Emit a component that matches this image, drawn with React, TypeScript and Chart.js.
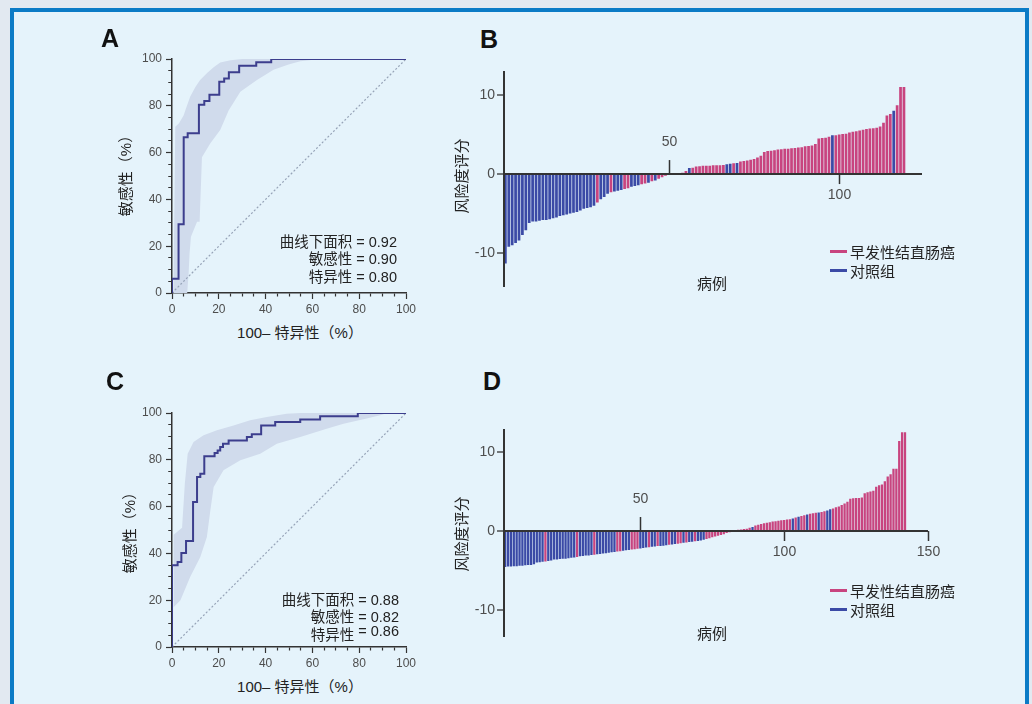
import React, { useEffect, useRef } from 'react';
import { Chart, registerables } from 'chart.js';

Chart.register(...registerables);

// ---------- colours & fonts ----------
const CASE_COLOR = '#c8447f';
const CONTROL_COLOR = '#3b4aa6';
const ROC_LINE = '#3c3e8d';
const ROC_BAND = '#d0dbec';
const DIAG = '#97a4b8';
const AXIS = '#333333';
const TICK_TEXT = '#4d4d4d';
const LATIN = '"Liberation Sans", Arial, sans-serif';
const MIXED = '"Liberation Sans", "Noto Sans CJK SC", sans-serif';
const CJK = '"Noto Sans CJK SC", "Liberation Sans", sans-serif';

// ---------- Panel A : ROC ----------
const rocAStepFpr = [0, 2.8, 5, 6.7, 11.5, 13.8, 16, 20.2, 22.3, 24.3, 28.7, 36, 42.4];
const rocAStepTpr = [6.1, 29.4, 66.6, 68.3, 80.4, 82.1, 84.7, 90.3, 91.7, 94.3, 97.1, 98.6, 100];
const rocABandUpperX = [0.6, 1.4, 3, 5, 6, 7.8, 10, 12, 15, 17.8, 20.6, 25, 30, 100];
const rocABandUpperY = [0, 71, 72.5, 76, 79, 84, 88, 91, 94, 96.5, 98.5, 99.5, 100, 100];
const rocABandLowerX = [100, 80, 60.5, 54.8, 49.8, 43.4, 36.3, 29.2, 24.2, 20.6, 16.4, 12.8, 11.8, 10.7, 8.1, 7.5, 7.1, 6.5];
const rocABandLowerY = [100, 100, 99.7, 99, 97.6, 95.4, 91, 86, 78, 69.7, 64, 58, 30.4, 30.4, 24, 16.9, 8.3, 0];
const rocAStatValues = ['0.92', '0.90', '0.80'];

// ---------- Panel C : ROC ----------
const rocCStepFpr = [0, 2.4, 4, 6, 9, 10.7, 12.1, 13.8, 18.2, 19.5, 20.6, 21.8, 24.2, 32, 34.1, 38.1, 44.1, 54.8, 63.3, 79.4];
const rocCStepTpr = [34.9, 36.3, 40.2, 45.3, 62, 72.6, 74, 81.5, 82.9, 84, 85.5, 86.9, 88.3, 89.7, 90.9, 94.7, 96.2, 97.2, 98.6, 100];
const rocCBandUpperX = [0.5, 0.7, 4.3, 5.5, 6.7, 9.2, 13.5, 19.2, 26.3, 33.4, 40.5, 49, 55, 100];
const rocCBandUpperY = [17, 48, 51, 70, 82.6, 87.6, 90.5, 92.6, 94.7, 96.9, 98.3, 99.7, 100, 100];
const rocCBandLowerX = [100, 92, 89, 83.2, 73.3, 66.1, 54.8, 44.8, 37.7, 29.2, 22, 17.8, 16.4, 14.9, 12.1, 7.8, 3.6, 0.7];
const rocCBandLowerY = [100, 100, 99, 97.6, 95.4, 93.3, 89.7, 86.9, 82.6, 79.8, 75.5, 68.4, 58.4, 47, 38.5, 30, 20, 17];
const rocCStatValues = ['0.88', '0.82', '0.86'];

const rocDiagonal = [0, 100];
const rocStatLabels = ['曲线下面积', '敏感性', '特异性'];

// ---------- Panel B : risk scores ----------
const bFirstCase = 2;
const bScores = [
  -11.3, -9.2, -9.0, -8.7, -8.4, -7.7, -7.1, -6.2, -6.0, -6.0,
  -5.9, -5.8, -5.8, -5.7, -5.6, -5.5, -5.3, -5.2, -5.1, -5.0,
  -4.9, -4.8, -4.6, -4.4, -4.3, -4.2, -4.0, -3.6, -3.2, -2.9,
  -2.5, -2.3, -2.2, -2.1, -2.0, -1.9, -1.8, -1.6, -1.5, -1.4,
  -1.3, -1.2, -1.1, -0.9, -0.8, -0.6, -0.4, -0.2, 0, 0,
  0, 0, 0.15, 0.4, 0.75, 0.8, 0.95, 1.0, 1.05, 1.05,
  1.05, 1.1, 1.1, 1.1, 1.15, 1.25, 1.3, 1.35, 1.4, 1.6,
  1.65, 1.7, 1.8, 1.9, 2.1, 2.3, 2.8, 2.9, 2.95, 3.0,
  3.1, 3.15, 3.2, 3.2, 3.25, 3.3, 3.35, 3.4, 3.5, 3.55,
  3.6, 3.8, 4.5, 4.55, 4.6, 4.7, 4.9, 4.9, 5.0, 5.05,
  5.1, 5.25, 5.35, 5.4, 5.5, 5.6, 5.7, 5.75, 5.8, 5.85,
  6.0, 6.5, 7.4, 7.6, 8.0, 8.7, 11.0, 11.0,
];
// 1 = 早发性结直肠癌, 0 = 对照组
const bGroups = [
  0, 0, 0, 0, 0, 0, 0, 0, 0, 0,
  0, 0, 0, 0, 0, 0, 0, 0, 0, 0,
  0, 0, 0, 0, 0, 0, 0, 1, 0, 0,
  0, 1, 0, 0, 0, 1, 1, 0, 0, 0,
  1, 1, 0, 1, 0, 1, 1, 1, 0, 0,
  0, 0, 1, 1, 0, 1, 1, 1, 1, 1,
  1, 1, 1, 1, 1, 0, 0, 1, 0, 1,
  1, 1, 1, 1, 1, 1, 1, 1, 1, 1,
  1, 1, 1, 1, 1, 1, 1, 1, 1, 1,
  1, 1, 1, 1, 1, 1, 0, 1, 1, 1,
  1, 1, 1, 1, 1, 1, 1, 1, 1, 1,
  1, 1, 1, 1, 0, 1, 1, 1,
];
const bTicksUp = [50];
const bTicksDown = [100];
const bYTicks = [-10, 0, 10];

// ---------- Panel D : risk scores ----------
const dFirstCase = 3;
const dScores = [
  -4.55, -4.5, -4.5, -4.45, -4.45, -4.4, -4.4, -4.35, -4.3, -4.3,
  -4.2, -4.0, -3.95, -3.9, -3.85, -3.8, -3.75, -3.6, -3.6, -3.55,
  -3.5, -3.5, -3.45, -3.4, -3.35, -3.3, -3.2, -3.15, -3.1, -3.1,
  -3.05, -3.0, -2.95, -2.9, -2.85, -2.8, -2.75, -2.7, -2.65, -2.6,
  -2.55, -2.5, -2.45, -2.4, -2.35, -2.3, -2.25, -2.2, -2.15, -2.1,
  -2.05, -2.0, -1.95, -1.9, -1.9, -1.85, -1.8, -1.75, -1.7, -1.65,
  -1.6, -1.55, -1.5, -1.45, -1.4, -1.35, -1.3, -1.25, -1.2, -1.1,
  -1.0, -0.9, -0.8, -0.7, -0.6, -0.5, -0.4, -0.25, -0.15, -0.05,
  0.05, 0.15, 0.2, 0.25, 0.3, 0.4, 0.5, 0.7, 0.8, 0.9,
  1.0, 1.05, 1.1, 1.2, 1.25, 1.3, 1.35, 1.4, 1.45, 1.5,
  1.6, 1.7, 1.8, 1.9, 2.0, 2.1, 2.2, 2.25, 2.3, 2.35,
  2.4, 2.5, 2.6, 2.75, 2.85, 3.0, 3.1, 3.3, 3.5, 3.7,
  4.1, 4.15, 4.2, 4.2, 4.25, 4.8, 4.9, 5.0, 5.1, 5.6,
  5.8, 5.9, 6.3, 6.9, 7.2, 7.9, 7.9, 11.4, 12.5, 12.5,
];
const dGroups = [
  0, 0, 0, 0, 0, 0, 0, 0, 0, 0,
  0, 0, 0, 0, 1, 0, 0, 0, 0, 0,
  0, 0, 0, 0, 0, 1, 0, 0, 0, 0,
  0, 1, 0, 0, 0, 0, 0, 0, 0, 1,
  1, 0, 0, 0, 1, 1, 1, 0, 0, 0,
  1, 0, 0, 1, 0, 0, 0, 1, 0, 0,
  1, 1, 0, 1, 0, 0, 1, 0, 0, 0,
  1, 1, 1, 1, 1, 1, 1, 1, 1, 1,
  1, 1, 1, 1, 1, 1, 0, 1, 1, 1,
  1, 1, 1, 1, 1, 1, 1, 1, 1, 1,
  0, 1, 0, 1, 1, 0, 1, 1, 1, 0,
  1, 1, 0, 0, 1, 1, 1, 1, 1, 1,
  1, 1, 1, 1, 1, 1, 1, 1, 1, 1,
  1, 1, 1, 1, 1, 1, 1, 1, 1, 1,
];
const dTicksUp = [50];
const dTicksDown = [100, 150];
const dYTicks = [-10, 0, 10];

const legendLabels = ['早发性结直肠癌', '对照组'];

// ---------- chart builders ----------
function buildSteps(fpr: number[], tpr: number[]) {
  const pts = [{ x: 0, y: 0 }];
  let prev = 0;
  fpr.forEach((x, i) => {
    pts.push({ x, y: prev });
    pts.push({ x, y: tpr[i] });
    prev = tpr[i];
  });
  pts.push({ x: 100, y: prev });
  return pts;
}

function rocConfig(stepFpr: number[], stepTpr: number[], upX: number[], upY: number[], loX: number[], loY: number[]): any {
  const band = [
    ...upX.map((x, i) => ({ x, y: upY[i] })),
    ...loX.map((x, i) => ({ x, y: loY[i] })),
  ];
  const isMinor = (ctx: any) => !!(ctx && ctx.tick && ctx.tick.value % 20 !== 0);
  const tickFont = { family: LATIN, size: 12 };
  return {
    type: 'scatter',
    data: {
      datasets: [
        { data: band, showLine: true, fill: 'shape', backgroundColor: ROC_BAND, borderColor: 'transparent', borderWidth: 0, pointRadius: 0, order: 3 },
        { data: rocDiagonal.map((v) => ({ x: v, y: v })), showLine: true, fill: false, borderColor: DIAG, borderWidth: 1.2, borderDash: [2, 2], pointRadius: 0, order: 2 },
        { data: buildSteps(stepFpr, stepTpr), showLine: true, fill: false, borderColor: ROC_LINE, borderWidth: 2, pointRadius: 0, order: 1 },
      ],
    },
    options: {
      animation: false,
      responsive: false,
      events: [],
      layout: { padding: { left: 0, right: 14, top: 19, bottom: 0 } },
      plugins: { legend: { display: false }, tooltip: { enabled: false } },
      scales: {
        x: {
          type: 'linear', min: 0, max: 100,
          afterFit: (s: any) => { s.height = 27; },
          border: { display: true, color: AXIS, width: 1.5 },
          grid: {
            drawOnChartArea: false, drawTicks: true, tickLength: 6, tickColor: AXIS, tickWidth: 1.2,
            tickBorderDash: (ctx: any) => (isMinor(ctx) ? [3, 100] : []),
          },
          ticks: { stepSize: 5, autoSkip: false, maxRotation: 0, padding: 3, color: TICK_TEXT, font: tickFont,
            callback: (v: any) => (Number(v) % 20 === 0 ? String(v) : '') },
        },
        y: {
          type: 'linear', min: 0, max: 100,
          afterFit: (s: any) => { s.width = 72; },
          border: { display: true, color: AXIS, width: 1.5 },
          grid: {
            drawOnChartArea: false, drawTicks: true, tickLength: 6, tickColor: AXIS, tickWidth: 1.2,
            tickBorderDash: (ctx: any) => (isMinor(ctx) ? [0, 2.25, 3, 100] : []),
          },
          ticks: { stepSize: 5, autoSkip: false, padding: 4, color: TICK_TEXT, font: tickFont,
            callback: (v: any) => (Number(v) % 20 === 0 ? String(v) : '') },
        },
      },
    },
  };
}

const caseTicksPlugin = {
  id: 'caseTicks',
  afterDraw(chart: any, _args: any, opts: any) {
    const { ctx } = chart;
    const xs = chart.scales.x;
    const ys = chart.scales.y;
    const y0 = ys.getPixelForValue(0);
    ctx.save();
    ctx.strokeStyle = AXIS;
    ctx.lineWidth = 1.5;
    ctx.fillStyle = TICK_TEXT;
    ctx.font = `14px ${LATIN}`;
    ctx.textAlign = 'center';
    ctx.textBaseline = 'middle';
    (opts.up || []).forEach((v: number) => {
      const px = Math.round(xs.getPixelForValue(v)) + 0.5;
      ctx.beginPath(); ctx.moveTo(px, y0); ctx.lineTo(px, y0 - 14); ctx.stroke();
      ctx.fillText(String(v), px, y0 - 32);
    });
    (opts.down || []).forEach((v: number) => {
      const px = Math.round(xs.getPixelForValue(v)) + 0.5;
      ctx.beginPath(); ctx.moveTo(px, y0); ctx.lineTo(px, y0 + 10); ctx.stroke();
      ctx.fillText(String(v), px, y0 + 21);
    });
    ctx.restore();
  },
};

function barConfig(first: number, scores: number[], groups: number[], xMin: number, xMax: number, yMin: number, yMax: number,
  yTicks: number[], up: number[], down: number[], pad: any): any {
  return {
    type: 'bar',
    data: {
      datasets: [{
        data: scores.map((y, i) => ({ x: first + i, y })),
        backgroundColor: groups.map((g) => (g ? CASE_COLOR : CONTROL_COLOR)),
        borderWidth: 0,
        barPercentage: 0.8,
        categoryPercentage: 1,
      }],
    },
    plugins: [caseTicksPlugin],
    options: {
      animation: false,
      responsive: false,
      events: [],
      layout: { padding: pad },
      plugins: { legend: { display: false }, tooltip: { enabled: false }, caseTicks: { up, down } },
      scales: {
        x: { type: 'linear', min: xMin, max: xMax, display: false, offset: false, grid: { offset: false } },
        y: {
          type: 'linear', min: yMin, max: yMax,
          afterFit: (s: any) => { s.width = 64; },
          afterBuildTicks: (s: any) => { s.ticks = yTicks.map((value) => ({ value })); },
          border: { display: true, color: AXIS, width: 2, z: 1 },
          grid: {
            z: 1,
            drawOnChartArea: true, drawTicks: true, tickLength: 7, tickColor: AXIS, tickWidth: 1.3,
            color: (ctx: any) => (ctx.tick && ctx.tick.value === 0 ? AXIS : 'rgba(0,0,0,0)'),
            lineWidth: 2,
          },
          ticks: { padding: 2, color: TICK_TEXT, font: { family: LATIN, size: 14 } },
        },
      },
    },
  };
}

// ---------- components ----------
function ChartCanvas({ left, top, width, height, config }: any) {
  const ref = useRef<HTMLCanvasElement>(null);
  useEffect(() => {
    const chart = new Chart(ref.current as HTMLCanvasElement, config);
    return () => chart.destroy();
  }, []);
  return <canvas ref={ref} width={width} height={height} style={{ position: 'absolute', left, top, width, height }} />;
}

function Label({ x, y, text, size = 15, rotate = false, weight = 400, family = MIXED, color = '#222' }: any) {
  return (
    <div style={{
      position: 'absolute', left: x, top: y, whiteSpace: 'nowrap', lineHeight: 1,
      fontSize: size, fontWeight: weight, fontFamily: family, color,
      transform: `translate(-50%, -50%)${rotate ? ' rotate(-90deg)' : ''}`,
    }}>{text}</div>
  );
}

function Stats({ right, ys, values, raise }: any) {
  return (
    <>
      {rocStatLabels.map((lab, i) => (
        <div key={i} style={{
          position: 'absolute', right: 1032 - right, top: ys[i], transform: 'translateY(-50%)',
          whiteSpace: 'nowrap', lineHeight: 1, fontSize: 14.5, fontFamily: MIXED, color: '#222',
        }}>
          {lab} <span style={{ position: 'relative', top: -(raise ? raise[i] : 0) }}>= {values[i]}</span>
        </div>
      ))}
    </>
  );
}

function Legend({ x, y }: any) {
  const colors = [CASE_COLOR, CONTROL_COLOR];
  return (
    <>
      {legendLabels.map((lab, i) => (
        <React.Fragment key={i}>
          <div style={{ position: 'absolute', left: x, top: y + i * 19 - 1.5, width: 17, height: 3, background: colors[i] }} />
          <div style={{ position: 'absolute', left: x + 20, top: y + i * 19, transform: 'translateY(-50%)', whiteSpace: 'nowrap',
            lineHeight: 1, fontSize: 15, fontFamily: CJK, color: '#222' }}>{lab}</div>
        </React.Fragment>
      ))}
    </>
  );
}

export default function App() {
  const cfgA = rocConfig(rocAStepFpr, rocAStepTpr, rocABandUpperX, rocABandUpperY, rocABandLowerX, rocABandLowerY);
  const cfgC = rocConfig(rocCStepFpr, rocCStepTpr, rocCBandUpperX, rocCBandUpperY, rocCBandLowerX, rocCBandLowerY);
  const cfgB = barConfig(bFirstCase, bScores, bGroups, 1.6, 124.3, -14.1, 12.9, bYTicks, bTicksUp, bTicksDown,
    { left: 0, right: 8, top: 12, bottom: 8 });
  const cfgD = barConfig(dFirstCase, dScores, dGroups, 2.6, 150, -13.25, 12.75, dYTicks, dTicksUp, dTicksDown,
    { left: 0, right: 12, top: 10, bottom: 8 });
  return (
    <div style={{ position: 'absolute', left: 0, top: 0, width: 1032, height: 704, overflow: 'hidden', background: '#e2e9f1' }}>
      <div style={{ position: 'absolute', left: 10, top: 8, width: 1011, height: 760, border: '4px solid #0b7bc6', background: '#e5f3fb' }} />

      <ChartCanvas left={100} top={40} width={320} height={280} config={cfgA} />
      <ChartCanvas left={100} top={394} width={320} height={280} config={cfgC} />
      <ChartCanvas left={440} top={60} width={490} height={236} config={cfgB} />
      <ChartCanvas left={440} top={420} width={500} height={226} config={cfgD} />

      <Label x={110} y={38} text="A" size={25} weight={700} family={LATIN} color="#111" />
      <Label x={489} y={39} text="B" size={25} weight={700} family={LATIN} color="#111" />
      <Label x={115} y={381} text="C" size={25} weight={700} family={LATIN} color="#111" />
      <Label x={492} y={381} text="D" size={25} weight={700} family={LATIN} color="#111" />

      <Label x={125} y={172} text="敏感性（%）" rotate />
      <Label x={300} y={332} text="100– 特异性（%）" />
      <Label x={129} y={529} text="敏感性（%）" rotate />
      <Label x={300} y={686} text="100– 特异性（%）" />

      <Label x={460} y={176} text="风险度评分" rotate family={CJK} />
      <Label x={712} y={282} text="病例" family={CJK} />
      <Label x={460} y={534} text="风险度评分" rotate family={CJK} />
      <Label x={712} y={632} text="病例" family={CJK} />

      <Stats right={397} ys={[242, 259, 277]} values={rocAStatValues} />
      <Stats right={399} ys={[600, 617, 635]} values={rocCStatValues} raise={[0, 0, 4]} />

      <Legend x={830} y={251} />
      <Legend x={830} y={590} />
    </div>
  );
}
